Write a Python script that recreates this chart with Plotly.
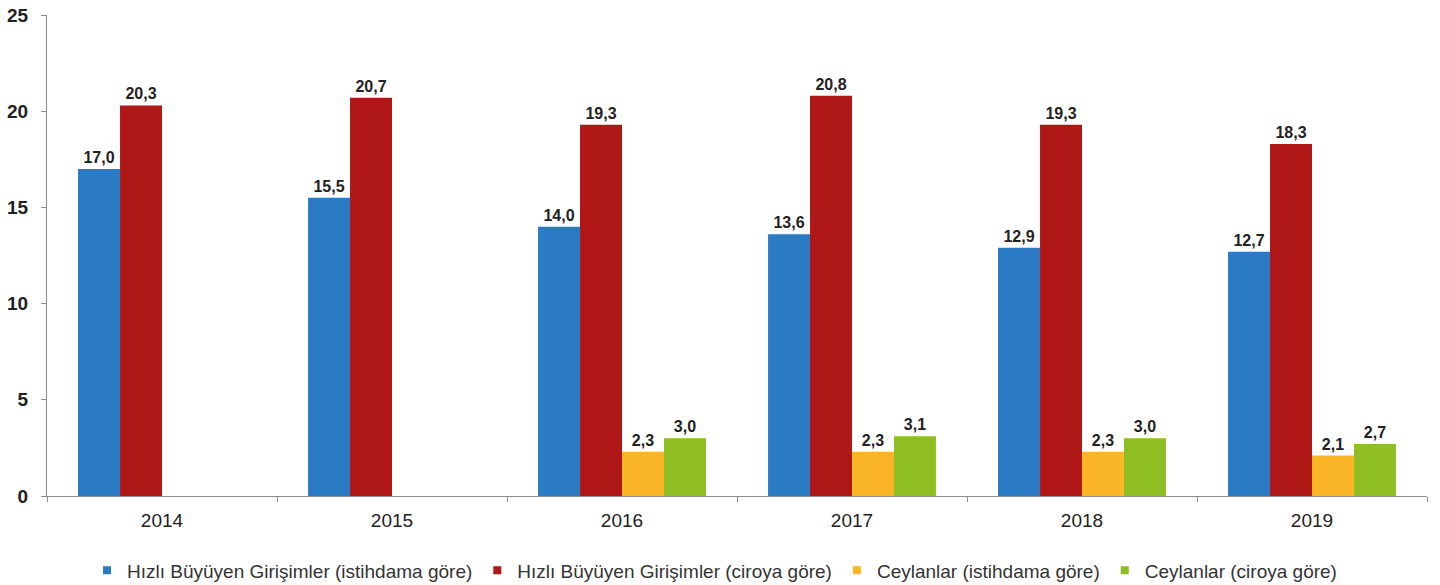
import plotly.graph_objects as go

years = ["2014", "2015", "2016", "2017", "2018", "2019"]
hizli_istihdam = [17.0, 15.5, 14.0, 13.6, 12.9, 12.7]
hizli_ciro = [20.3, 20.7, 19.3, 20.8, 19.3, 18.3]
ceylan_istihdam = [None, None, 2.3, 2.3, 2.3, 2.1]
ceylan_ciro = [None, None, 3.0, 3.1, 3.0, 2.7]

series = [
    ("Hızlı Büyüyen Girişimler (istihdama göre)", hizli_istihdam, "#2B7BC4"),
    ("Hızlı Büyüyen Girişimler (ciroya göre)", hizli_ciro, "#B01717"),
    ("Ceylanlar (istihdama göre)", ceylan_istihdam, "#FBB627"),
    ("Ceylanlar (ciroya göre)", ceylan_ciro, "#8FBE22"),
]

fig = go.Figure()
for name, vals, col in series:
    fig.add_trace(go.Bar(
        x=years, y=vals, name=name, showlegend=False,
        marker=dict(color=col, line=dict(width=0)),
        texttemplate="%{y:.1f}", textposition="outside",
        textfont=dict(family="Liberation Sans, Arial", size=16, color="#222222", weight="bold"),
        cliponaxis=False,
    ))
# legend entries with small square swatches
for name, vals, col in series:
    fig.add_trace(go.Scatter(
        x=[None], y=[None], mode="markers", name=name,
        marker=dict(symbol="square", size=8, color=col),
    ))

fig.update_layout(
    width=1440, height=585,
    margin=dict(l=47, r=13, t=15, b=89, autoexpand=False),
    paper_bgcolor="white", plot_bgcolor="white",
    barmode="group", bargap=0.27, bargroupgap=0,
    separators=",.",
    font=dict(family="Liberation Sans, Arial", color="#222222"),
    showlegend=True,
    legend=dict(orientation="h", x=0.029, xanchor="left", y=-0.115, yanchor="top",
                font=dict(size=19, color="#333333"), traceorder="normal",
                itemwidth=30),
    xaxis=dict(showline=True, linecolor="#8c8c8c", linewidth=1, ticks="outside",
               tickson="boundaries", ticklen=5, tickcolor="#8c8c8c", automargin=False,
               ticklabelstandoff=7,
               tickfont=dict(size=19, color="#222222"), showgrid=False),
    yaxis=dict(range=[0, 25], dtick=5, showline=True, linecolor="#8c8c8c", linewidth=1,
               ticks="outside", ticklen=5, tickcolor="#8c8c8c", showgrid=False, automargin=False,
               zeroline=False, ticklabelstandoff=9,
               tickfont=dict(family="Liberation Sans, Arial", size=19,
                             color="#222222", weight="bold")),
)

fig.write_html("out.html", config={"displayModeBar": False},
               post_script="document.body.style.margin='0';")
